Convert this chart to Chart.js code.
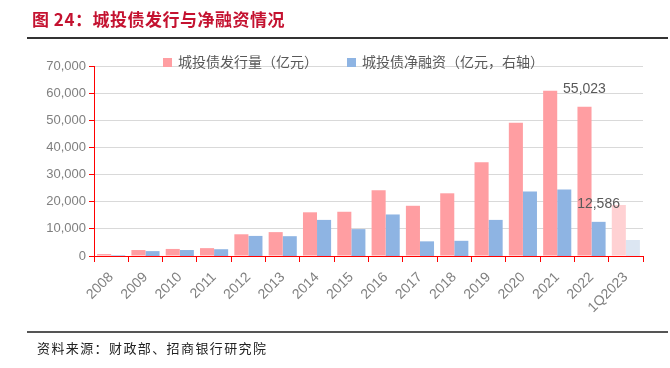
<!DOCTYPE html>
<html>
<head>
<meta charset="utf-8">
<script src="https://cdn.jsdelivr.net/npm/chart.js@4"></script>
<style>
  html, body { margin:0; padding:0; background:#fff; width:670px; height:368px; overflow:hidden; }
  #wrap { position:absolute; left:0; top:0; width:670px; height:368px; }
  #title { position:absolute; left:32px; top:6px; font-family:"Noto Sans CJK SC", sans-serif; font-weight:bold; font-size:17px; color:#C41230; letter-spacing:0.5px; white-space:nowrap; }
  #rule1 { position:absolute; left:27px; top:37px; width:641px; height:2px; background:#333; }
  #rule2 { position:absolute; left:27px; top:331px; width:641px; height:2px; background:#555; }
  #source { position:absolute; left:37px; top:338px; font-family:"Noto Sans CJK SC", sans-serif; font-size:13px; color:#222; letter-spacing:1.4px; white-space:nowrap; }
  .lg { position:absolute; top:52px; font-family:"Noto Sans CJK SC", sans-serif; font-size:14px; color:#595959; white-space:nowrap; line-height:18px; }
  .lg i { display:inline-block; width:9px; height:9px; margin-right:6px; vertical-align:0px; }
  canvas { position:absolute; left:0; top:0; }
</style>
</head>
<body>
<div id="wrap">
  <canvas id="c" width="670" height="368"></canvas>
  <div id="title">图 24：城投债发行与净融资情况</div>
  <div id="rule1"></div>
  <div id="legend"></div>
  <div id="rule2"></div>
  <div id="source">资料来源：财政部、招商银行研究院</div>
</div>
<script>
const categories = ['2008','2009','2010','2011','2012','2013','2014','2015','2016','2017','2018','2019','2020','2021','2022','1Q2023'];
const issuance = [700, 2200, 2600, 2900, 8000, 8800, 16100, 16300, 24200, 18500, 23100, 34500, 49100, 60900, 55023, 18800];
const netFinancing = [200, 1800, 2200, 2500, 7400, 7300, 13300, 9900, 15300, 5400, 5600, 13300, 23800, 24500, 12586, 5900];
const seriesNames = ['城投债发行量（亿元）', '城投债净融资（亿元，右轴）'];
const labelledPoints = [[0, 14], [1, 14]];
const yMax = 70000, yStep = 10000;

const pink = '#FF9EA2', pinkLight = '#FFD1D3';
const blue = '#8EB4E3', blueLight = '#DCE6F2';
const lastIdx = categories.length - 1;
const pinkColors = categories.map((c, i) => i === lastIdx ? pinkLight : pink);
const blueColors = categories.map((c, i) => i === lastIdx ? blueLight : blue);

const valueLabels = {
  id: 'valueLabels',
  afterDatasetsDraw(chart) {
    const ctx = chart.ctx;
    ctx.save();
    ctx.font = '14px "Liberation Sans", Arial, sans-serif';
    ctx.fillStyle = '#595959';
    ctx.textAlign = 'center';
    ctx.textBaseline = 'middle';
    labelledPoints.forEach(([d, i]) => {
      const bar = chart.getDatasetMeta(d).data[i];
      const v = chart.data.datasets[d].data[i];
      ctx.fillText(v.toLocaleString('en-US'), bar.x, bar.y - 18);
    });
    ctx.restore();
  }
};

const chart = new Chart(document.getElementById('c'), {
  type: 'bar',
  data: {
    labels: categories,
    datasets: [
      { label: seriesNames[0], data: issuance, backgroundColor: pinkColors, yAxisID: 'y', borderWidth: 0 },
      { label: seriesNames[1], data: netFinancing, backgroundColor: blueColors, yAxisID: 'y2', borderWidth: 0 }
    ]
  },
  options: {
    responsive: false,
    devicePixelRatio: 1,
    animation: false,
    categoryPercentage: 0.82,
    barPercentage: 1.0,
    layout: { padding: { top: 66, left: 30, right: 0, bottom: 40 } },
    plugins: { legend: { display: false }, tooltip: { enabled: false } },
    scales: {
      x: {
        offset: true,
        grid: { display: true, drawOnChartArea: false, color: '#FF0000', tickLength: 6, offset: true },
        border: { display: true, color: '#FF0000', width: 1 },
        ticks: { minRotation: 45, maxRotation: 45, autoSkip: false, padding: 7, color: '#7F7F7F', font: { family: '"Liberation Sans", Arial, sans-serif', size: 14 } },
        afterFit: (s) => { s.height = 72; }
      },
      y: {
        position: 'left',
        min: 0, max: yMax,
        ticks: { stepSize: yStep, padding: 3, color: '#7F7F7F', font: { family: '"Liberation Sans", Arial, sans-serif', size: 13 },
                 callback: (v) => v.toLocaleString('en-US') },
        grid: { color: '#D9D9D9', tickColor: '#FF0000', tickLength: 5, lineWidth: 1 },
        border: { display: true, color: '#FF0000', width: 1 },
        afterFit: (s) => { s.width = 64; }
      },
      y2: {
        position: 'right',
        min: 0, max: yMax,
        ticks: { display: false, stepSize: yStep },
        grid: { display: false },
        border: { display: false },
        afterFit: (s) => { s.width = 27; }
      }
    }
  },
  plugins: [valueLabels]
});

// legend built from the chart's datasets
const legendPos = [163, 347];
const legendEl = document.getElementById('legend');
chart.data.datasets.forEach((ds, k) => {
  const d = document.createElement('div');
  d.className = 'lg';
  d.style.left = legendPos[k] + 'px';
  const box = document.createElement('i');
  box.style.background = k === 0 ? pink : blue;
  d.appendChild(box);
  d.appendChild(document.createTextNode(ds.label));
  legendEl.appendChild(d);
});
</script>
</body>
</html>
